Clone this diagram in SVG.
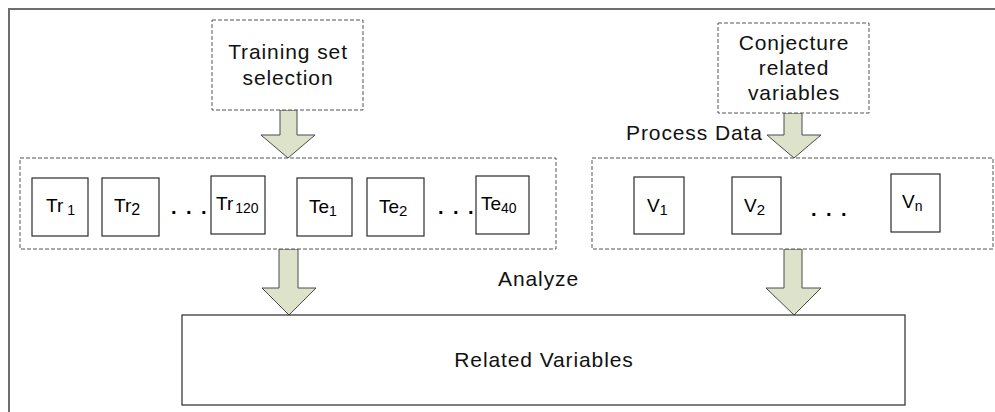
<svg xmlns="http://www.w3.org/2000/svg" width="995" height="412" viewBox="0 0 995 412">
  <style>
    .frame { fill: none; stroke: #6e6e6e; stroke-width: 2; }
    .dash { fill: #fff; stroke: #555; stroke-width: 1; stroke-dasharray: 4 2; }
    .box { fill: #fff; stroke: #2a2a2a; stroke-width: 1.2; }
    .arrow { fill: #dde2cb; stroke: #4a4a4a; stroke-width: 1; }
    .lbl { font-family: "Liberation Sans", Arial, sans-serif; font-size: 21px; fill: #111; letter-spacing: 0.9px; }
    .cell { font-family: "Liberation Sans", Arial, sans-serif; font-size: 19px; fill: #000; }
    .sub { font-size: 14px; }
    .dots { font-family: "Liberation Sans", Arial, sans-serif; font-size: 20px; font-weight: bold; fill: #000; letter-spacing: 9.5px; }
  </style>

  <rect width="995" height="412" fill="#fff"/>
  <!-- outer frame (left and top edges) -->
  <path class="frame" d="M9,412 V9 H995"/>

  <!-- connectors: block arrows -->
  <g id="connectors">
    <polygon class="arrow" points="280,110 297,110 297,135 315,135 288,158 261,135 280,135"/>
    <polygon class="arrow" points="784,113 802,113 802,135 821,135 794,158 767,135 784,135"/>
    <polygon class="arrow" points="279,249 298,249 298,288 316,288 289,315 262,288 279,288"/>
    <polygon class="arrow" points="784,249 802,249 802,288 821,288 794,315 766,288 784,288"/>
  </g>

  <g id="training-selection">
    <rect class="dash" x="212" y="20" width="151" height="90"/>
    <text class="lbl" x="288" y="59" text-anchor="middle">Training set</text>
    <text class="lbl" x="288" y="85" text-anchor="middle">selection</text>
  </g>

  <g id="conjecture">
    <rect class="dash" x="718" y="23" width="151" height="90"/>
    <text class="lbl" x="794" y="50" text-anchor="middle">Conjecture</text>
    <text class="lbl" x="794" y="75" text-anchor="middle">related</text>
    <text class="lbl" x="794" y="100" text-anchor="middle">variables</text>
  </g>

  <text id="label-process" class="lbl" x="626" y="140" letter-spacing="0.2">Process Data</text>
  <text id="label-analyze" class="lbl" x="498" y="286">Analyze</text>

  <!-- sample sets -->
  <g id="samples">
    <rect class="dash" x="20" y="158" width="536" height="91"/>
    <g id="tr1">
      <rect class="box" x="32" y="178" width="56" height="58"/>
      <text class="cell" x="46" y="212">Tr<tspan class="sub" dx="4" dy="3">1</tspan></text>
    </g>
    <g id="tr2">
      <rect class="box" x="102" y="178" width="57" height="58"/>
      <text class="cell" x="114" y="212">Tr<tspan font-size="16" dy="3">2</tspan></text>
    </g>
    <text class="dots" x="171" y="214">...</text>
    <g id="tr120">
      <rect class="box" x="211" y="176" width="54" height="58"/>
      <text class="cell" x="216" y="210">Tr<tspan class="sub" dx="2" dy="3">120</tspan></text>
    </g>
    <g id="te1">
      <rect class="box" x="297" y="178" width="55" height="58"/>
      <text class="cell" x="309" y="213">Te<tspan class="sub" dy="3">1</tspan></text>
    </g>
    <g id="te2">
      <rect class="box" x="367" y="178" width="57" height="58"/>
      <text class="cell" x="379" y="213">Te<tspan font-size="15" dy="3">2</tspan></text>
    </g>
    <text class="dots" x="438" y="214">...</text>
    <g id="te40">
      <rect class="box" x="476" y="176" width="53" height="58"/>
      <text class="cell" x="481" y="210">Te<tspan class="sub" dy="3">40</tspan></text>
    </g>
  </g>

  <!-- process variables -->
  <g id="variables">
    <rect class="dash" x="592" y="158" width="401" height="91"/>
    <g id="v1">
      <rect class="box" x="634" y="177" width="50" height="57"/>
      <text class="cell" x="647" y="212">V<tspan class="sub" dy="3">1</tspan></text>
    </g>
    <g id="v2">
      <rect class="box" x="732" y="177" width="49" height="57"/>
      <text class="cell" x="744" y="212">V<tspan font-size="15" dy="3">2</tspan></text>
    </g>
    <text class="dots" x="811" y="216">...</text>
    <g id="vn">
      <rect class="box" x="891" y="174" width="49" height="58"/>
      <text class="cell" x="902" y="208">V<tspan class="sub" dy="3">n</tspan></text>
    </g>
  </g>

  <g id="related-variables">
    <rect class="box" x="182" y="315" width="723" height="90"/>
    <text class="lbl" x="544" y="367" text-anchor="middle">Related Variables</text>
  </g>
</svg>
